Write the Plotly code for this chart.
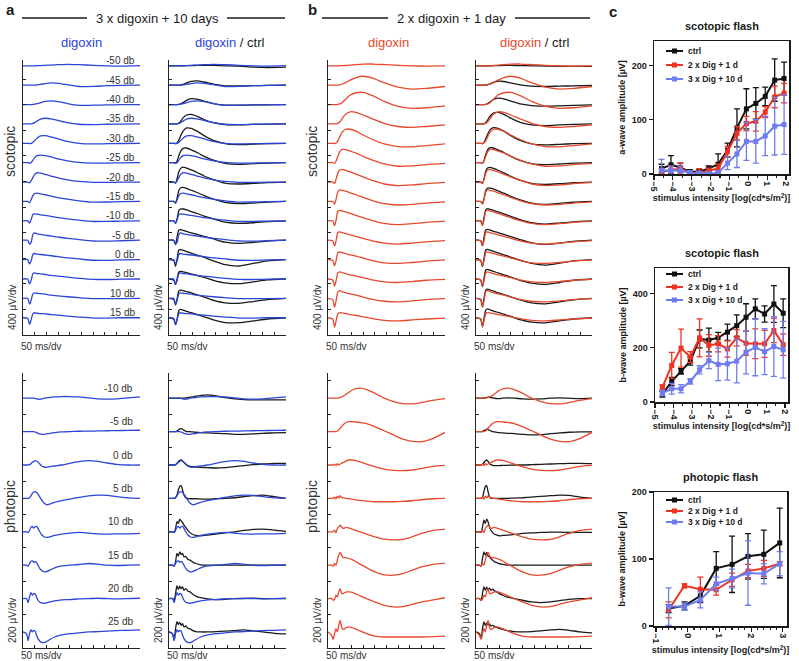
import plotly.graph_objects as go

W, H = 799, 661

# ---------------- ERG trace data ----------------
DB_SCOT = [-50, -45, -40, -35, -30, -25, -20, -15, -10, -5, 0, 5, 10, 15]
DB_PHOT = [-10, -5, 0, 5, 10, 15, 20, 25]

T_SCOT = [0, 20, 28, 35, 42, 50, 60, 75, 95, 120, 150, 190, 240, 300, 360, 420, 500]
T_PHOT = [0, 15, 22, 28, 34, 40, 46, 52, 58, 64, 72, 80, 90, 100, 115, 135, 165,
          200, 240, 280, 320, 360, 400, 450, 500]

BLUE_SCOT = [
    [0, 0, 0, 0, 0, 0, 2, 4, 8, 12, 18, 24, 18, 8, 0, -4, 2],
    [0, 0, 0, 0, 0, 2, 6, 14, 26, 36, 30, 8, -20, -18, -8, -4, 0],
    [0, 0, 0, 0, 2, 6, 14, 30, 50, 58, 45, 15, -12, -10, -5, -2, 0],
    [0, 0, 0, 2, 8, 20, 45, 75, 89, 80, 55, 20, -5, -10, -5, -2, 0],
    [0, 0, -5, 0, 15, 45, 80, 115, 120, 100, 70, 30, 0, -10, -6, -3, 0],
    [0, 0, -8, 5, 40, 80, 110, 120, 110, 90, 60, 30, 5, -5, -5, -2, 0],
    [0, 0, -12, 20, 70, 120, 146, 140, 120, 95, 65, 35, 10, -5, -5, -2, 0],
    [0, 0, -20, 30, 90, 125, 130, 120, 105, 85, 60, 35, 10, -10, -8, -3, 0],
    [0, 0, -37, 20, 100, 110, 105, 95, 85, 70, 50, 30, 10, -10, -8, -4, 0],
    [0, 0, -60, -30, 90, 115, 100, 90, 80, 65, 50, 30, 10, -12, -15, -8, 0],
    [0, 0, -68, -20, 80, 95, 85, 80, 72, 60, 45, 28, 10, -10, -12, -5, 0],
    [0, 0, -78, -20, 80, 94, 85, 80, 70, 55, 45, 28, 10, -5, -8, -3, 0],
    [0, 0, -89, -30, 70, 84, 80, 75, 65, 50, 40, 25, 10, -5, -5, -3, 0],
    [0, -10, -105, -30, 60, 78, 70, 65, 60, 50, 40, 25, 10, -5, -5, 0, 0],
]
CTRL_A_SCOT = [
    [0, 0, 0, 0, 0, 0, 0, 2, 4, 6, 8, 6, 0, -5, -20, -26, -20],
    [0, 0, 0, 0, 0, 4, 12, 35, 60, 68, 50, 15, -10, -12, -8, -4, 0],
    [0, 0, 0, 0, 3, 10, 30, 65, 92, 85, 55, 15, -8, -10, -6, -3, 0],
    [0, 0, 0, 3, 15, 45, 95, 140, 150, 120, 70, 20, -10, -15, -8, -4, 0],
    [0, 0, -5, 10, 50, 120, 190, 240, 235, 190, 120, 45, -5, -20, -12, -5, 0],
    [0, 0, -8, 30, 110, 180, 225, 230, 200, 160, 100, 40, -10, -25, -15, -6, 0],
    [0, 0, -15, 60, 160, 215, 235, 220, 190, 150, 95, 40, -15, -30, -20, -8, 0],
    [0, 0, -25, 60, 170, 215, 220, 205, 175, 140, 90, 35, -15, -35, -25, -10, 0],
    [0, 0, -40, 40, 160, 188, 185, 170, 145, 115, 75, 30, -20, -40, -30, -12, 0],
    [0, 0, -68, 60, 160, 167, 155, 138, 115, 90, 60, 20, -30, -50, -35, -15, 0],
    [0, -10, -105, 20, 150, 157, 145, 125, 100, 70, 35, -20, -80, -100, -60, -20, 0],
    [0, -15, -89, 10, 110, 120, 112, 100, 80, 55, 25, -20, -60, -73, -45, -15, 0],
    [0, -15, -105, 0, 115, 130, 120, 105, 85, 55, 20, -30, -70, -78, -50, -20, 0],
    [0, -20, -110, -10, 110, 130, 120, 100, 80, 50, 15, -35, -75, -78, -50, -20, 0],
]
RED_SCOT = [
    [0, 0, 0, 0, 0, 0, 2, 5, 10, 18, 25, 28, 20, 8, 0, -4, -2],
    [0, 0, 0, 0, 2, 6, 15, 40, 80, 120, 140, 110, 40, -30, -60, -50, -20],
    [0, 0, 0, 0, 3, 10, 30, 80, 150, 185, 190, 140, 50, -30, -60, -50, -20],
    [0, 0, 0, 2, 10, 30, 80, 150, 190, 180, 140, 80, 10, -40, -55, -40, -15],
    [0, 0, -5, 10, 40, 100, 170, 220, 220, 190, 130, 60, -10, -50, -55, -35, -10],
    [0, 0, -10, 30, 100, 170, 210, 205, 180, 150, 100, 40, -20, -55, -50, -30, -10],
    [0, 0, -20, 50, 140, 190, 200, 185, 160, 125, 80, 25, -30, -55, -45, -25, -5],
    [0, 0, -40, 40, 150, 180, 175, 160, 135, 105, 65, 15, -35, -55, -45, -25, -5],
    [0, 0, -75, 20, 150, 165, 155, 140, 115, 85, 50, 5, -40, -60, -45, -25, -5],
    [0, -10, -93, 0, 120, 130, 120, 105, 85, 60, 30, -10, -45, -60, -45, -25, -5],
    [0, -10, -97, -10, 110, 120, 110, 95, 75, 55, 25, -15, -50, -60, -45, -25, -5],
    [0, -15, -114, -20, 95, 110, 100, 85, 65, 45, 20, -15, -45, -55, -40, -20, -5],
    [0, -20, -142, -30, 100, 120, 105, 90, 70, 50, 20, -15, -45, -55, -40, -20, -5],
    [0, -20, -149, -40, 60, 80, 75, 65, 50, 35, 15, -15, -40, -50, -35, -20, -5],
]
CTRL_B_SCOT = [
    [0, 0, 0, 0, 0, 0, 0, 2, 4, 6, 6, 4, 0, -4, -8, -10, -8],
    [0, 0, 0, 0, 2, 8, 20, 45, 62, 58, 35, 5, -15, -20, -15, -10, -5],
    [0, 0, 0, 0, 5, 15, 40, 80, 100, 90, 55, 10, -15, -25, -20, -12, -6],
    [0, 0, 0, 5, 20, 60, 120, 170, 180, 150, 90, 25, -15, -25, -15, -8, 0],
    [0, 0, -5, 15, 70, 140, 210, 245, 235, 190, 120, 45, -10, -25, -15, -6, 0],
    [0, 0, -10, 40, 130, 200, 235, 230, 200, 160, 100, 35, -15, -30, -20, -8, 0],
    [0, 0, -20, 60, 170, 220, 230, 215, 185, 145, 90, 30, -20, -35, -25, -10, 0],
    [0, 0, -35, 50, 170, 210, 210, 195, 165, 130, 80, 25, -25, -45, -30, -12, 0],
    [0, 0, -60, 60, 170, 190, 180, 165, 140, 110, 70, 20, -30, -50, -35, -15, 0],
    [0, -5, -85, 60, 160, 170, 160, 140, 118, 90, 55, 10, -40, -65, -45, -18, 0],
    [0, -10, -110, 30, 150, 160, 148, 128, 104, 75, 40, -10, -60, -85, -55, -20, 0],
    [0, -15, -120, 20, 140, 150, 138, 118, 95, 65, 30, -20, -65, -85, -55, -20, 0],
    [0, -15, -130, 10, 130, 145, 132, 112, 90, 60, 25, -25, -70, -85, -55, -22, 0],
    [0, -20, -135, 0, 120, 138, 125, 105, 84, 55, 20, -30, -70, -80, -50, -20, 0],
]

BLUE_PHOT = [
    [0, 0, 0, 0, 0, 0, 0, -2, -4, -6, -6, -4, 0, 2, 5, 8, 10, 10, 8, 2, -4, -6, -4, 2, 8],
    [0, 0, 0, 0, 0, 0, 0, -3, -6, -10, -14, -16, -16, -14, -10, -6, -2, 0, 2, 3, 4, 5, 6, 7, 8],
    [0, 0, 0, 2, 8, 16, 22, 26, 24, 18, 6, -6, -12, -14, -10, -6, 0, 10, 20, 26, 22, 12, 4, 0, 0],
    [0, 0, 0, 4, 15, 30, 38, 40, 35, 25, 8, -10, -28, -38, -34, -24, -14, -4, 6, 15, 20, 18, 10, 3, 0],
    [0, 0, -4, 8, 28, 32, 22, 30, 32, 20, 0, -18, -30, -34, -30, -22, -14, -8, -4, -8, -12, -14, -12, -12, -10],
    [0, 0, -6, 10, 24, 26, 18, 22, 15, 0, -20, -32, -40, -38, -30, -16, -4, 0, 4, 10, 6, 0, -2, 0, 2],
    [0, 0, -24, 10, 36, 20, 30, 28, 8, -10, -22, -26, -28, -26, -20, -14, -8, -6, -2, 0, 2, 0, -2, 0, 2],
    [0, -10, -52, -10, 12, 0, 10, 5, -20, -40, -55, -62, -64, -58, -45, -30, -18, -10, -5, 0, 2, 5, 8, 10, 12],
]
CTRL_A_PHOT = [
    [0, 0, 0, 0, 0, 0, 0, 0, 0, 0, 2, 4, 6, 8, 12, 16, 20, 14, 4, -4, -8, -10, -10, -10, -10],
    [0, 0, 0, 0, 4, 10, 16, 18, 14, 8, 2, 0, 0, -2, -4, -6, -8, -10, -12, -16, -16, -14, -10, -8, -6],
    [0, 0, 0, 2, 10, 20, 28, 30, 24, 14, 4, -4, -8, -10, -12, -14, -16, -18, -16, -10, -4, 2, 6, 10, 10],
    [0, 0, 0, 4, 20, 50, 72, 76, 50, 20, 4, 0, -2, -2, -2, -4, -4, -2, 0, 4, 10, 16, 20, 10, 0],
    [0, 0, -4, 20, 60, 50, 76, 65, 55, 40, 25, 10, -5, -15, -22, -24, -20, -14, -6, 0, 8, 14, 16, 10, 2],
    [0, 0, -6, 20, 70, 55, 80, 65, 70, 50, 52, 36, 30, 20, 10, 2, 0, 0, 0, 0, 0, 0, 0, 0, 0],
    [0, 0, -10, 30, 76, 55, 74, 60, 70, 50, 60, 46, 40, 28, 15, 5, -2, -6, -4, 0, 0, 2, 0, 0, 0],
    [0, -10, -48, 20, 62, 45, 58, 40, 50, 30, 36, 22, 18, 10, 2, 0, 0, 2, 5, 8, 12, 6, 0, -8, -12],
]
RED_PHOT = [
    [0, 0, 0, 0, 0, 0, 2, 4, 8, 12, 18, 26, 36, 46, 56, 60, 52, 30, 0, -20, -32, -34, -26, -12, -2],
    [0, 0, 0, 0, 0, 4, 10, 20, 30, 40, 50, 56, 60, 60, 58, 55, 48, 30, 5, -20, -45, -58, -60, -40, -5],
    [0, 0, 0, 5, -3, 8, 0, 6, 10, 14, 20, 26, 30, 30, 28, 20, 5, -10, -25, -32, -34, -30, -20, -8, -2],
    [0, 0, 0, 8, -4, 14, 2, 16, 6, 4, 2, 0, -2, -4, -8, -12, -16, -20, -20, -20, -18, -14, -8, -2, 0],
    [0, 0, 0, 10, -6, 20, 30, 40, 30, 20, 24, 26, 22, 18, 10, 0, -14, -30, -44, -48, -45, -30, -10, 8, 16],
    [0, 0, -5, 10, 0, 30, 60, 76, 60, 46, 45, 44, 40, 35, 25, 8, -15, -40, -58, -60, -50, -30, -10, 5, 12],
    [0, 0, -10, -4, 20, 10, 40, 60, 30, 30, 36, 40, 40, 38, 30, 18, 0, -20, -40, -50, -48, -35, -20, -8, 5],
    [0, -20, -44, -10, 20, 0, 40, 70, 30, 15, 20, 28, 30, 28, 20, 8, -10, -25, -30, -30, -30, -30, -30, -28, -25],
]
CTRL_B_PHOT = [
    [0, 0, 0, 0, 0, 2, 4, 6, 6, 4, 2, 0, -2, -2, 0, 2, 0, -4, -6, -4, 0, 2, 0, -2, 0],
    [0, 0, 0, 2, 6, 10, 14, 12, 8, 4, 0, -2, -4, -6, -8, -10, -12, -16, -20, -18, -12, -8, -4, -2, -2],
    [0, 0, 0, 4, 15, 25, 30, 22, 10, 2, -2, -4, -4, -4, -2, -2, 0, 0, 2, 4, 6, 8, 10, 10, 8],
    [0, 0, 0, 6, 40, 70, 76, 40, 10, 2, 0, 0, 0, 0, 0, 0, 2, 4, 8, 12, 16, 20, 18, 8, 0],
    [0, 0, -4, 30, 70, 50, 76, 60, 30, 10, -5, -15, -20, -24, -22, -20, -16, -10, -6, -4, -2, -2, -4, -4, -4],
    [0, 0, -6, 40, 80, 60, 76, 55, 50, 40, 30, 20, 15, 10, 5, 0, 0, 0, 0, 0, 0, 0, 0, 0, 0],
    [0, 0, -10, 30, 70, 50, 68, 55, 62, 50, 56, 46, 40, 30, 20, 8, 0, -10, -20, -24, -20, -12, -5, 0, 0],
    [0, -10, -40, 20, 60, 40, 55, 42, 48, 36, 40, 32, 28, 22, 15, 8, 2, 0, 2, 6, 12, 16, 10, 0, -6],
]

# ---------------- panel c data ----------------
SC_X = [-4.6, -4.1, -3.6, -3.1, -2.6, -2.1, -1.6, -1.1, -0.6, -0.1, 0.4, 0.9, 1.4, 1.9]
A_CTRL = [10, 17, 12, 4, 4, 10, 18, 44, 85, 120, 130, 143, 173, 176]
A_CTRL_ERR = [8, 17, 8, 4, 4, 5, 19, 13, 35, 37, 29, 17, 39, 30]
A_RED = [4, 7, 10, 2, 2, 6, 10, 41, 75, 93, 97, 114, 142, 149]
A_RED_ERR = [6, 8, 10, 4, 8, 5, 8, 10, 12, 13, 18, 10, 20, 18]
A_BLUE = [7, 6, 7, 2, 1, 1, 2, 20, 37, 60, 60, 70, 88, 91]
A_BLUE_ERR = [20, 8, 8, 4, 4, 3, 4, 12, 25, 35, 40, 36, 53, 55]

B_CTRL = [28, 76, 113, 151, 233, 229, 237, 258, 282, 313, 344, 325, 362, 328]
B_CTRL_ERR = [10, 15, 10, 15, 33, 44, 20, 30, 40, 50, 37, 30, 68, 53]
B_RED = [55, 135, 199, 166, 237, 209, 215, 196, 237, 217, 215, 215, 264, 212]
B_RED_ERR = [8, 48, 70, 20, 70, 40, 30, 30, 30, 45, 55, 50, 45, 40]
B_BLUE = [33, 49, 49, 76, 119, 153, 139, 141, 151, 184, 202, 186, 205, 193]
B_BLUE_ERR = [10, 20, 15, 10, 15, 30, 60, 60, 80, 80, 105, 85, 110, 105]

PH_X = [-0.6, -0.1, 0.4, 0.9, 1.4, 1.9, 2.4, 2.9]
P_CTRL = [26, 30, 45, 86, 92, 104, 107, 124]
P_CTRL_ERR = [6, 6, 10, 25, 42, 34, 36, 52]
P_RED = [24, 60, 55, 54, 69, 82, 86, 93]
P_RED_ERR = [12, 3, 18, 8, 10, 10, 12, 3]
P_BLUE = [29, 29, 39, 63, 71, 79, 78, 93]
P_BLUE_ERR = [28, 5, 12, 10, 14, 48, 15, 18]

SERIES_NAMES = ["ctrl", "2 x Dig + 1 d", "3 x Dig + 10 d"]

# ---------------- styling ----------------
BLUE = "#2b45d8"
RED = "#e8482c"
BLACK = "#1a1a1a"
C_BLACK = "#111111"
C_RED = "#ee3322"
C_BLUE = "#6f7cf0"
FONT = "Liberation Sans, Arial, sans-serif"
TXT = "#333333"


def pxx(x):
    return x / W


def pyy(y):
    return 1 - y / H


fig = go.Figure()
layout = {}
annotations = []
shapes = []


def ann(text, x, y, size, color=TXT, angle=0, xanchor="center", yanchor="middle"):
    annotations.append(dict(text=text, x=pxx(x), y=pyy(y), xref="paper", yref="paper",
                            textangle=angle, showarrow=False, xanchor=xanchor,
                            yanchor=yanchor, font=dict(size=size, color=color)))


def ax_key(kind, n):
    return kind if n == 1 else f"{kind}{n}"


def ax_ref(kind, n):
    return kind[0] if n == 1 else f"{kind[0]}{n}"


COLS = [(23, 140), (169, 286), (328, 445), (476, 592)]
ROWS = {"scot": (60, 335), "phot": (373, 648)}
YCFG = {"scot": dict(rng=[0, 4300], dtick=400, base0=270, step=303),
        "phot": dict(rng=[0, 1647], dtick=200, base0=96, step=200)}

PANELS = [
    (0, "scot", [(BLUE_SCOT, BLUE)]),
    (1, "scot", [(CTRL_A_SCOT, BLACK), (BLUE_SCOT, BLUE)]),
    (2, "scot", [(RED_SCOT, RED)]),
    (3, "scot", [(CTRL_B_SCOT, BLACK), (RED_SCOT, RED)]),
    (0, "phot", [(BLUE_PHOT, BLUE)]),
    (1, "phot", [(CTRL_A_PHOT, BLACK), (BLUE_PHOT, BLUE)]),
    (2, "phot", [(RED_PHOT, RED)]),
    (3, "phot", [(CTRL_B_PHOT, BLACK), (RED_PHOT, RED)]),
]

n = 0
for col, kind, series in PANELS:
    n += 1
    x0, x1 = COLS[col]
    ytop, ybot = ROWS[kind]
    cfg = YCFG[kind]
    layout[ax_key("xaxis", n)] = dict(
        domain=[pxx(x0), pxx(x1)], anchor=ax_ref("yaxis", n), range=[0, 500],
        showline=True, linecolor="#222", linewidth=1, ticks="inside", ticklen=3,
        tickcolor="#222", tickwidth=1, tick0=0, dtick=50, showticklabels=False,
        showgrid=False, zeroline=False, fixedrange=True, automargin=False)
    layout[ax_key("yaxis", n)] = dict(
        domain=[pyy(ybot), pyy(ytop)], anchor=ax_ref("xaxis", n), range=cfg["rng"],
        showline=True, linecolor="#222", linewidth=1, ticks="inside", ticklen=3,
        tickcolor="#222", tickwidth=1, tick0=0, dtick=cfg["dtick"], showticklabels=False,
        showgrid=False, zeroline=False, fixedrange=True, automargin=False)
    tgrid = T_SCOT if kind == "scot" else T_PHOT
    for data, color in series:
        ntr = len(data)
        for k, amps in enumerate(data):
            base = cfg["base0"] + cfg["step"] * (ntr - 1 - k)
            fig.add_trace(go.Scatter(
                x=tgrid, y=[base + a for a in amps], mode="lines",
                line=dict(color=color, width=1.3, shape="spline", smoothing=0.6),
                xaxis=ax_ref("xaxis", n), yaxis=ax_ref("yaxis", n),
                showlegend=False, hoverinfo="skip"))
    ann("400 µV/dv" if kind == "scot" else "200 µV/dv", x0 - 11,
        308 if kind == "scot" else 621, 10, angle=-90)
    ann("50 ms/dv", x0 - 4, 346 if kind == "scot" else 655, 10, xanchor="left")

# dB labels (panel a, left)
for k, db in enumerate(DB_SCOT):
    base = YCFG["scot"]["base0"] + YCFG["scot"]["step"] * (len(DB_SCOT) - 1 - k)
    ypix = 335 - base / 4300 * 275
    ann(f"{db} db", 137, ypix - 5, 10, xanchor="right")
for k, db in enumerate(DB_PHOT):
    base = YCFG["phot"]["base0"] + YCFG["phot"]["step"] * (len(DB_PHOT) - 1 - k)
    ypix = 648 - base / 1647 * 275
    ann(f"{db} db", 135, ypix - 10, 10, xanchor="right")

# row labels
for xx in (10, 312):
    ann("scotopic", xx, 152, 14, angle=-90)
    ann("photopic", xx, 507, 14, angle=-90)

# column titles and headers
ann("digoxin", 81, 43, 13, color=BLUE)
ann(f"<span style='color:{BLUE}'>digoxin</span> / ctrl", 229, 43, 13, color=BLACK)
ann("digoxin", 388, 43, 13, color=RED)
ann(f"<span style='color:{RED}'>digoxin</span> / ctrl", 534, 43, 13, color=BLACK)
ann("3 x digoxin + 10 days", 157, 18, 13, color=BLACK)
ann("2 x digoxin + 1 day", 451, 18, 13, color=BLACK)
for letter, xx, yy in (("a", 10, 9), ("b", 312, 9), ("c", 613, 11)):
    ann(f"<b>{letter}</b>", xx, yy, 15, color=BLACK)

for xa, xb in ((22, 87), (227, 285), (322, 388), (515, 590)):
    shapes.append(dict(type="line", xref="paper", yref="paper", x0=pxx(xa), x1=pxx(xb),
                       y0=pyy(18), y1=pyy(18), line=dict(color=BLACK, width=1.5)))

# ---------------- panel c ----------------
C_PANELS = [
    dict(x=(654, 789), y=(41, 174), xr=[-5, 2.16], yr=[0, 245], dty=100, dtx=1,
         title="scotopic flash", ytitle="a-wave amplitude [µV]", xs=SC_X,
         data=[(A_CTRL, A_CTRL_ERR, C_BLACK), (A_RED, A_RED_ERR, C_RED), (A_BLUE, A_BLUE_ERR, C_BLUE)],
         legend_rows=(51, 65, 79)),
    dict(x=(655, 788), y=(268, 402), xr=[-5, 2.16], yr=[0, 495], dty=200, dtx=1,
         title="scotopic flash", ytitle="b-wave amplitude [µV]", xs=SC_X,
         data=[(B_CTRL, B_CTRL_ERR, C_BLACK), (B_RED, B_RED_ERR, C_RED), (B_BLUE, B_BLUE_ERR, C_BLUE)],
         legend_rows=(274, 287, 300)),
    dict(x=(654, 787), y=(492, 626), xr=[-1.06, 3.13], yr=[0, 200], dty=100, dtx=1,
         title="photopic flash", ytitle="b-wave amplitude [µV]", xs=PH_X,
         data=[(P_CTRL, P_CTRL_ERR, C_BLACK), (P_RED, P_RED_ERR, C_RED), (P_BLUE, P_BLUE_ERR, C_BLUE)],
         legend_rows=(500, 511, 522)),
]

for i, cp in enumerate(C_PANELS):
    n += 1
    bold = dict(size=9, color=BLACK, weight="bold")
    layout[ax_key("xaxis", n)] = dict(
        domain=[pxx(cp["x"][0]), pxx(cp["x"][1])], anchor=ax_ref("yaxis", n), range=cp["xr"],
        showline=True, mirror=True, linecolor=BLACK, linewidth=1.5, ticks="outside",
        ticklen=4, tickwidth=1.2, tickcolor=BLACK, tick0=0, dtick=cp["dtx"], tickangle=90,
        tickfont=bold, showgrid=False, zeroline=False, fixedrange=True, automargin=False,
        minor=dict(ticks="outside", ticklen=2, tickcolor=BLACK, dtick=0.5 if i < 2 else 0.2),
        title=dict(text="stimulus intensity [log(cd*s/m<sup>2</sup>)]", standoff=4,
                   font=dict(size=9, color=BLACK, weight="bold")))
    layout[ax_key("yaxis", n)] = dict(
        domain=[pyy(cp["y"][1]), pyy(cp["y"][0])], anchor=ax_ref("xaxis", n), range=cp["yr"],
        showline=True, mirror=True, linecolor=BLACK, linewidth=1.5, ticks="outside",
        ticklen=4, tickwidth=1.2, tickcolor=BLACK, tick0=0, dtick=cp["dty"],
        tickfont=bold, showgrid=False, zeroline=False, fixedrange=True, automargin=False,
        title=dict(text=cp["ytitle"], standoff=4, font=dict(size=9, color=BLACK, weight="bold")))
    ann(f"<b>{cp['title']}</b>", (cp["x"][0] + cp["x"][1]) / 2, cp["y"][0] - 15, 11, color=BLACK)
    for (vals, errs, color), name, ly in zip(cp["data"], SERIES_NAMES, cp["legend_rows"]):
        fig.add_trace(go.Scatter(
            x=cp["xs"], y=vals, name=name, mode="lines+markers",
            line=dict(color=color, width=2), marker=dict(symbol="square", size=5, color=color),
            error_y=dict(type="data", array=errs, visible=True, color=color, thickness=1.3, width=3),
            xaxis=ax_ref("xaxis", n), yaxis=ax_ref("yaxis", n), showlegend=False,
            cliponaxis=False))
        # legend key drawn inside the frame
        shapes.append(dict(type="line", xref="paper", yref="paper", x0=pxx(666), x1=pxx(683),
                           y0=pyy(ly), y1=pyy(ly), line=dict(color=color, width=2)))
        shapes.append(dict(type="rect", xref="paper", yref="paper", x0=pxx(672), x1=pxx(677),
                           y0=pyy(ly + 2.5), y1=pyy(ly - 2.5), line=dict(width=0), fillcolor=color))
        annotations.append(dict(text=f"<b>{name}</b>", x=pxx(686), y=pyy(ly), xref="paper",
                                yref="paper", showarrow=False, xanchor="left", yanchor="middle",
                                font=dict(size=8.5, color=BLACK)))

fig.update_layout(
    width=W, height=H, autosize=False, margin=dict(l=0, r=0, t=0, b=0, autoexpand=False),
    paper_bgcolor="white", plot_bgcolor="rgba(0,0,0,0)", showlegend=False,
    font=dict(family=FONT, color=BLACK), annotations=annotations, shapes=shapes,
    **layout)

fig.write_html("out.html", config={"displayModeBar": False, "staticPlot": True},
               post_script="document.body.style.margin='0';document.body.style.overflow='hidden';")
